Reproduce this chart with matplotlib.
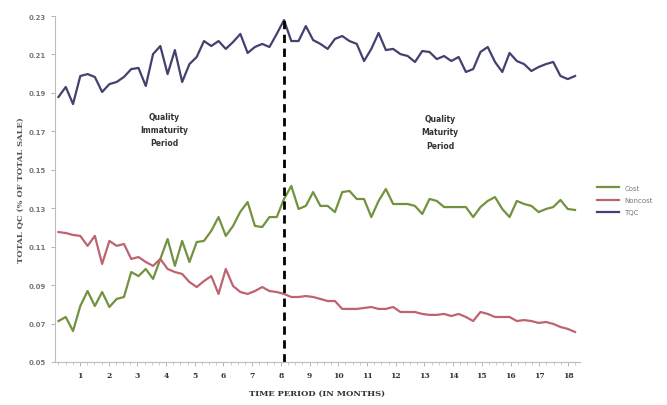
import matplotlib
matplotlib.use("Agg")
import matplotlib.pyplot as plt
import numpy as np
from matplotlib.ticker import MultipleLocator

# weekly readings, 4 per month
tqc = [0.1879, 0.1931, 0.1842, 0.1988, 0.1998, 0.1983, 0.1905, 0.1946, 0.1957, 0.1983,
       0.2024, 0.2030, 0.1936, 0.2102, 0.2144, 0.1998, 0.2123, 0.1957, 0.2050, 0.2087,
       0.2170, 0.2144, 0.2170, 0.2129, 0.2165, 0.2207, 0.2108, 0.2139, 0.2155, 0.2139,
       0.2207, 0.2279, 0.2170, 0.2170, 0.2248, 0.2175, 0.2155, 0.2129, 0.2181, 0.2196,
       0.2170, 0.2155, 0.2066, 0.2129, 0.2212, 0.2123, 0.2129, 0.2102, 0.2092, 0.2061,
       0.2118, 0.2113, 0.2076, 0.2092, 0.2066, 0.2087, 0.2009, 0.2024, 0.2113, 0.2139,
       0.2061, 0.2009, 0.2108, 0.2066, 0.2050, 0.2014, 0.2035, 0.2050, 0.2061, 0.1988,
       0.1972, 0.1988]

cost = [0.0713, 0.0734, 0.0661, 0.0791, 0.0869, 0.0791, 0.0864, 0.0786, 0.0828, 0.0838,
        0.0968, 0.0947, 0.0984, 0.0932, 0.1036, 0.1140, 0.1000, 0.1130, 0.1020, 0.1124,
        0.1130, 0.1182, 0.1254, 0.1156, 0.1208, 0.1282, 0.1332, 0.1208, 0.1202, 0.1254,
        0.1254, 0.1348, 0.1416, 0.1296, 0.1312, 0.1384, 0.1312, 0.1312, 0.1280, 0.1384,
        0.1390, 0.1348, 0.1348, 0.1254, 0.1338, 0.1400, 0.1322, 0.1322, 0.1322, 0.1312,
        0.1270, 0.1348, 0.1338, 0.1306, 0.1306, 0.1306, 0.1306, 0.1254, 0.1306, 0.1338,
        0.1358, 0.1296, 0.1254, 0.1338, 0.1322, 0.1312, 0.1280, 0.1296, 0.1306, 0.1343,
        0.1296, 0.1291]

noncost = [0.1176, 0.1171, 0.1161, 0.1156, 0.1104, 0.1156, 0.1010, 0.1130, 0.1104, 0.1114,
           0.1036, 0.1046, 0.1020, 0.1000, 0.1036, 0.0984, 0.0968, 0.0958, 0.0916, 0.0890,
           0.0921, 0.0947, 0.0854, 0.0984, 0.0895, 0.0864, 0.0854, 0.0869, 0.0890, 0.0869,
           0.0864, 0.0854, 0.0838, 0.0838, 0.0843, 0.0838, 0.0828, 0.0817, 0.0817, 0.0776,
           0.0776, 0.0776, 0.0781, 0.0786, 0.0776, 0.0776, 0.0786, 0.0760, 0.0760, 0.0760,
           0.0750, 0.0745, 0.0745, 0.0750, 0.0739, 0.0750, 0.0734, 0.0713, 0.0760, 0.0750,
           0.0734, 0.0734, 0.0734, 0.0713, 0.0718, 0.0713, 0.0703, 0.0708, 0.0698, 0.0682,
           0.0672, 0.0656]

weeks = np.arange(1, len(tqc) + 1)
months = 0.25 + (weeks - 1) * 0.2535

month_labels = list(range(1, 19))
y_ticks = [0.05, 0.07, 0.09, 0.11, 0.13, 0.15, 0.17, 0.19, 0.21, 0.23]

fig = plt.figure(figsize=(6.67, 4.06), dpi=100)
ax = fig.add_axes([0.0825, 0.106, 0.787, 0.852])

ax.plot(months, cost, color="#72923f", lw=1.6, label="Cost")
ax.plot(months, noncost, color="#bd6470", lw=1.6, label="Noncost")
ax.plot(months, tqc, color="#42416f", lw=1.6, label="TQC")

# boundary between the two periods at the TQC peak
peak = months[int(np.argmax(tqc))]
ax.plot([peak, peak], [0.05, max(tqc)], color="black", lw=2, ls=(0, (3, 2)))

ax.text(3.95, 0.171, "Quality\nImmaturity\nPeriod", ha="center", va="center",
        fontsize=5.5, fontweight="bold", color="#333333", linespacing=1.6)
ax.text(13.55, 0.1697, "Quality\nMaturity\nPeriod", ha="center", va="center",
        fontsize=5.5, fontweight="bold", color="#333333", linespacing=1.6)

ax.set_xlim(0.13, 18.42)
ax.set_ylim(0.05, 0.23)
ax.set_xticks(month_labels)
ax.xaxis.set_minor_locator(MultipleLocator(0.25))
ax.set_yticks(y_ticks)
ax.set_yticklabels([f"{v:.2f}" for v in y_ticks])

for s in ["top", "right"]:
    ax.spines[s].set_visible(False)
for s in ["left", "bottom"]:
    ax.spines[s].set_color("#bbbbbb")
    ax.spines[s].set_linewidth(0.8)

ax.tick_params(axis="both", which="major", length=3, width=0.6, color="#aaaaaa")
ax.tick_params(axis="x", which="minor", length=2, width=0.5, color="#bbbbbb")
for lab in ax.get_xticklabels():
    lab.set_fontsize(5.5)
    lab.set_fontweight("bold")
    lab.set_family("serif")
    lab.set_color("#333333")
for lab in ax.get_yticklabels():
    lab.set_fontsize(5)
    lab.set_fontweight("bold")
    lab.set_color("#777777")

ax.set_xlabel("TIME PERIOD (IN MONTHS)", fontsize=6, fontweight="bold",
              family="serif", color="#333333", labelpad=7)
ax.set_ylabel("TOTAL QC (% OF TOTAL SALE)", fontsize=6, fontweight="bold",
              family="serif", color="#555555", labelpad=3)

leg = fig.legend(loc="center left", bbox_to_anchor=(0.885, 0.505), frameon=False,
                 fontsize=5, handlelength=3.2, labelspacing=0.9)
for t in leg.get_texts():
    t.set_color("#777777")

fig.savefig("out.png", dpi=100)
